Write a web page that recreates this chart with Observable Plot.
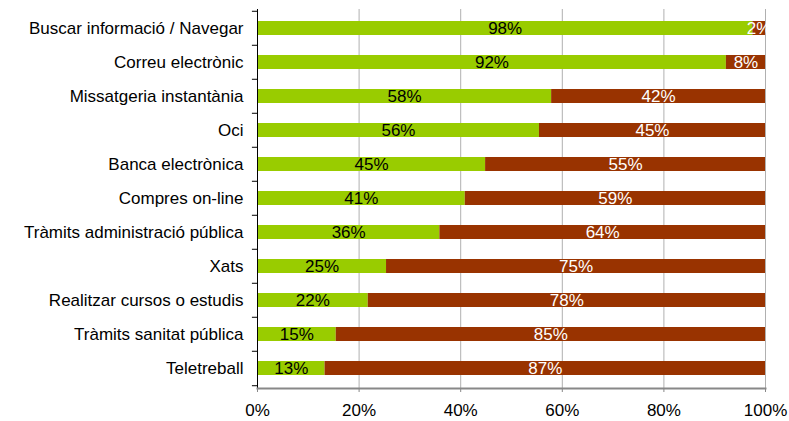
<!DOCTYPE html>
<html>
<head>
<meta charset="utf-8">
<script src="https://cdn.jsdelivr.net/npm/d3@7"></script>
<script src="https://cdn.jsdelivr.net/npm/@observablehq/plot@0.6"></script>
<style>
  html, body { margin: 0; padding: 0; background: #fff; }
  svg { font-family: "Liberation Sans", Arial, sans-serif; }
</style>
</head>
<body>
<div id="chart"></div>
<script>
const categories = [
  "Buscar informació / Navegar",
  "Correu electrònic",
  "Missatgeria instantània",
  "Oci",
  "Banca electrònica",
  "Compres on-line",
  "Tràmits administració pública",
  "Xats",
  "Realitzar cursos o estudis",
  "Tràmits sanitat pública",
  "Teletreball"
];
const greenValues = [97.5, 92.3, 57.9, 55.5, 44.9, 40.9, 35.9, 25.4, 21.8, 15.5, 13.3];
const redValues   = [2.5, 7.7, 42.1, 44.5, 55.1, 59.1, 64.1, 74.6, 78.2, 84.5, 86.7];
const greenLabels = ["98%", "92%", "58%", "56%", "45%", "41%", "36%", "25%", "22%", "15%", "13%"];
const redLabels   = ["2%", "8%", "42%", "45%", "55%", "59%", "64%", "75%", "78%", "85%", "87%"];
const seriesNames = ["Sí", "No"];
const seriesColors = ["#99CC00", "#993300"];
const labelColors = ["#000000", "#ffffff"];
const xTicks = [0, 20, 40, 60, 80, 100];

const rows = [];
categories.forEach((c, i) => {
  rows.push({cat: c, series: seriesNames[0], value: greenValues[i], label: greenLabels[i], tc: labelColors[0]});
  rows.push({cat: c, series: seriesNames[1], value: redValues[i], label: redLabels[i], tc: labelColors[1]});
});

const W = 789, H = 421, mTop = 9, mBottom = 33;
const step = (H - mTop - mBottom) / categories.length;
const FS = 17;

const plot = Plot.plot({
  width: W,
  height: H,
  marginLeft: 257,
  marginRight: 24,
  marginTop: mTop,
  marginBottom: mBottom,
  style: {fontFamily: "Liberation Sans, Arial, sans-serif", fontSize: FS + "px", color: "#000", background: "#fff", overflow: "visible"},
  x: {domain: [0, 100], label: null},
  y: {domain: categories, paddingInner: 0.58, paddingOuter: 0.29, label: null},
  color: {domain: seriesNames, range: seriesColors},
  marks: [
    Plot.ruleX([20, 40, 60, 80, 100], {stroke: "#b0b0b0", strokeWidth: 1}),
    Plot.barX(rows, Plot.stackX({x: "value", y: "cat", fill: "series", order: seriesNames})),
    Plot.text(rows, Plot.stackX({x: "value", y: "cat", text: "label", fill: "tc", order: seriesNames, fontSize: FS})),
    Plot.ruleX([0], {stroke: "#000", strokeWidth: 1}),
    Plot.ruleY(categories, {y: d => d, x1: -1, x2: 0, dy: -step / 2, stroke: "#000", clip: false}),
    Plot.ruleY([categories[categories.length - 1]], {y: d => d, x1: -1, x2: 0, dy: step / 2, stroke: "#000", clip: false}),
    Plot.frame({anchor: "bottom", stroke: "#888", strokeWidth: 2}),
    Plot.axisX({ticks: xTicks, tickFormat: d => d + "%", tickSize: 4, tickPadding: 11, stroke: "#888", fill: "#000", fontSize: FS, label: null}),
    Plot.axisY({tickSize: 0, tickPadding: 14, fill: "#000", fontSize: FS, label: null})
  ]
});
document.getElementById("chart").appendChild(plot);
</script>
</body>
</html>
